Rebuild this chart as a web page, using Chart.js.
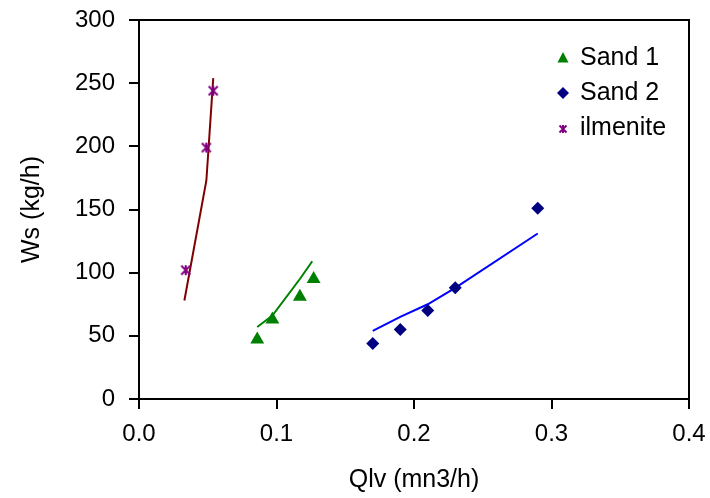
<!DOCTYPE html>
<html>
<head>
<meta charset="utf-8">
<script src="https://cdn.jsdelivr.net/npm/chart.js@4.4.1/dist/chart.umd.min.js"></script>
<style>
  html, body { margin: 0; padding: 0; background: #fff; }
  #wrap { width: 710px; height: 498px; }
</style>
</head>
<body>
<div id="wrap"><canvas id="myChart" width="710" height="498"></canvas></div>
<script>
const X_TICKS = [0, 0.1, 0.2, 0.3, 0.4];
const Y_TICKS = [0, 50, 100, 150, 200, 250, 300];

// measured points
const SAND1_X = [0.086, 0.097, 0.117, 0.127];
const SAND1_Y = [47, 63, 81, 95];
const SAND2_X = [0.17, 0.19, 0.21, 0.23, 0.29];
const SAND2_Y = [44, 55, 70, 88, 151];
const ILM_X = [0.034, 0.049, 0.054];
const ILM_Y = [102, 199, 244];

// model curves
const SAND1_FIT_X = [0.086, 0.097, 0.117, 0.126];
const SAND1_FIT_Y = [57, 66, 95, 109];
const SAND2_FIT_X = [0.17, 0.19, 0.21, 0.23, 0.29];
const SAND2_FIT_Y = [54, 65, 75, 88, 131];
const ILM_FIT_X = [0.033, 0.049, 0.054];
const ILM_FIT_Y = [78, 173, 254];

const LEGEND = ["Sand 1", "Sand 2", "ilmenite"];

const FONT = "'Liberation Sans', Arial, sans-serif";

const pts = (xs, ys) => xs.map((x, i) => ({ x: x, y: ys[i] }));

// excel style star marker (x + vertical bar)
const starImg = (size, col) => {
  const c = document.createElement("canvas");
  c.width = size;
  c.height = size;
  const g = c.getContext("2d");
  g.strokeStyle = col;
  g.lineWidth = 2;
  const a = 1.5, b = size - 1.5, m = size / 2;
  g.beginPath();
  g.moveTo(a, a); g.lineTo(b, b);
  g.moveTo(b, a); g.lineTo(a, b);
  g.moveTo(m, a - 0.5); g.lineTo(m, b + 0.5);
  g.stroke();
  return c;
};
const STAR = starImg(12, "#800080");
const STAR_SMALL = starImg(10, "#800080");

const lineSet = (data, col) => ({
  data: data,
  showLine: true,
  borderColor: col,
  borderWidth: 2,
  pointRadius: 0,
  pointHoverRadius: 0,
  fill: false,
  tension: 0,
});

// no overflow padding from the scales, the layout padding decides
const noPad = (s) => {
  s.paddingTop = 0;
  s.paddingBottom = 0;
  s.paddingLeft = 0;
  s.paddingRight = 0;
};

// frame + legend
const framePlugin = {
  id: "frame",
  afterDatasetsDraw(chart) {
    const { ctx, chartArea: a } = chart;
    ctx.save();
    ctx.strokeStyle = "#000";
    ctx.lineWidth = 2;
    ctx.strokeRect(a.left, a.top, a.right - a.left, a.bottom - a.top);

    const mx = 563, tx = 580, ys = [58, 93, 128];
    // triangle
    ctx.fillStyle = "#008000";
    ctx.beginPath();
    ctx.moveTo(mx, ys[0] - 6);
    ctx.lineTo(mx + 5.5, ys[0] + 4.5);
    ctx.lineTo(mx - 5.5, ys[0] + 4.5);
    ctx.closePath();
    ctx.fill();
    // diamond
    ctx.fillStyle = "#000080";
    ctx.beginPath();
    ctx.moveTo(mx, ys[1] - 6);
    ctx.lineTo(mx + 6, ys[1]);
    ctx.lineTo(mx, ys[1] + 6);
    ctx.lineTo(mx - 6, ys[1]);
    ctx.closePath();
    ctx.fill();
    // star
    ctx.drawImage(STAR_SMALL, mx - 5, ys[2] - 4);

    ctx.fillStyle = "#000";
    ctx.font = "25px " + FONT;
    ctx.textAlign = "left";
    ctx.textBaseline = "middle";
    LEGEND.forEach((t, i) => ctx.fillText(t, tx, ys[i]));
    ctx.restore();
  },
};

const ctx = document.getElementById("myChart").getContext("2d");

const myChart = new Chart(ctx, {
  type: "scatter",
  data: {
    datasets: [
      {
        label: LEGEND[0],
        data: pts(SAND1_X, SAND1_Y),
        pointStyle: "triangle",
        pointRadius: 8,
        backgroundColor: "#008000",
        borderColor: "#008000",
        borderWidth: 0,
      },
      {
        label: LEGEND[1],
        data: pts(SAND2_X, SAND2_Y),
        pointStyle: "rectRot",
        pointRadius: 6.5,
        backgroundColor: "#000080",
        borderColor: "#000080",
        borderWidth: 0,
      },
      {
        label: LEGEND[2],
        data: pts(ILM_X, ILM_Y),
        pointStyle: STAR,
      },
      lineSet(pts(SAND1_FIT_X, SAND1_FIT_Y), "#008000"),
      lineSet(pts(SAND2_FIT_X, SAND2_FIT_Y), "#0000FF"),
      lineSet(pts(ILM_FIT_X, ILM_FIT_Y), "#800000"),
    ],
  },
  options: {
    responsive: false,
    animation: false,
    devicePixelRatio: 1,
    layout: { padding: { left: 0, right: 21, top: 20, bottom: 0 } },
    plugins: {
      legend: { display: false },
      tooltip: { enabled: false },
    },
    scales: {
      x: {
        type: "linear",
        min: 0,
        max: 0.4,
        afterFit: (s) => { s.height = 99; noPad(s); },
        afterBuildTicks: (s) => { s.ticks = X_TICKS.map((v) => ({ value: v })); },
        ticks: {
          color: "#000",
          font: { family: FONT, size: 24 },
          padding: 11,
          maxRotation: 0,
          callback: (v) => v.toFixed(1),
        },
        grid: {
          drawOnChartArea: false,
          drawTicks: true,
          tickLength: 10,
          tickColor: "#000",
          lineWidth: 2,
        },
        border: { color: "#000", width: 2 },
        title: {
          display: true,
          text: "Qlv (mn3/h)",
          color: "#000",
          font: { family: FONT, size: 25 },
          padding: { top: 0, bottom: 3 },
        },
      },
      y: {
        type: "linear",
        min: 0,
        max: 300,
        afterFit: (s) => { s.width = 139; noPad(s); },
        afterBuildTicks: (s) => { s.ticks = Y_TICKS.map((v) => ({ value: v })); },
        ticks: {
          color: "#000",
          font: { family: FONT, size: 24 },
          padding: 14,
        },
        grid: {
          drawOnChartArea: false,
          drawTicks: true,
          tickLength: 10,
          tickColor: "#000",
          lineWidth: 2,
        },
        border: { color: "#000", width: 2 },
        title: {
          display: true,
          text: "Ws (kg/h)",
          color: "#000",
          font: { family: FONT, size: 25 },
          padding: { top: 17, bottom: 0 },
        },
      },
    },
  },
  plugins: [framePlugin],
});
</script>
</body>
</html>
